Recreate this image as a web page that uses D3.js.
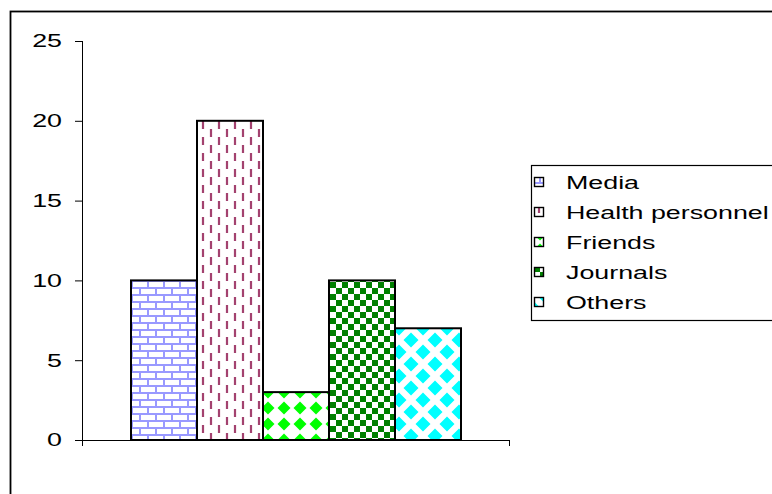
<!DOCTYPE html>
<html>
<head>
<meta charset="utf-8">
<script src="https://cdn.jsdelivr.net/npm/d3@7"></script>
<style>
body { margin: 0; background: #fff; }
svg { display: block; font-family: "Liberation Sans", Arial, sans-serif; }
</style>
</head>
<body>
<script>
var categories = ["Media", "Health personnel", "Friends", "Journals", "Others"];
var values = [10, 20, 3, 10, 7];
var yTicks = [0, 5, 10, 15, 20, 25];

var width = 772, height = 494;
var plot = {left: 82, right: 510, top: 41, bottom: 440};
var stretch = 1.45; // text in the original is drawn wide

var svg = d3.select("body").append("svg")
    .attr("width", width)
    .attr("height", height);

var defs = svg.append("defs");

// brick pattern (Media)
var p = defs.append("pattern").attr("id", "pat0").attr("patternUnits", "userSpaceOnUse")
    .attr("width", 16).attr("height", 14);
p.append("rect").attr("width", 16).attr("height", 14).attr("fill", "#fff");
p.append("path").attr("d", "M0,1H16M0,8H16M4,0V8M12,8V14")
    .attr("stroke", "#9999ff").attr("stroke-width", 2).attr("fill", "none");

// dashed vertical (Health personnel)
p = defs.append("pattern").attr("id", "pat1").attr("patternUnits", "userSpaceOnUse")
    .attr("width", 16).attr("height", 16);
p.append("rect").attr("width", 16).attr("height", 16).attr("fill", "#fff");
p.append("path").attr("d", "M3,1V9M11,9V17M11,-7V1")
    .attr("stroke", "#a3426f").attr("stroke-width", 2.2);

// aligned diamonds (Friends)
p = defs.append("pattern").attr("id", "pat2").attr("patternUnits", "userSpaceOnUse")
    .attr("x", 4).attr("y", 0)
    .attr("width", 16).attr("height", 16);
p.append("rect").attr("width", 16).attr("height", 16).attr("fill", "#fff");
p.append("path").attr("d", "M8,1.5L14.5,8L8,14.5L1.5,8Z").attr("fill", "#00ff00");

// small checker (Journals)
p = defs.append("pattern").attr("id", "pat3").attr("patternUnits", "userSpaceOnUse")
    .attr("width", 12).attr("height", 12);
p.append("rect").attr("width", 12).attr("height", 12).attr("fill", "#fff");
p.append("rect").attr("width", 6).attr("height", 6).attr("fill", "#008000");
p.append("rect").attr("x", 6).attr("y", 6).attr("width", 6).attr("height", 6).attr("fill", "#008000");

// staggered diamonds (Others)
p = defs.append("pattern").attr("id", "pat4").attr("patternUnits", "userSpaceOnUse")
    .attr("x", 3).attr("y", 4)
    .attr("width", 24).attr("height", 24);
p.append("rect").attr("width", 24).attr("height", 24).attr("fill", "#fff");
p.append("path")
    .attr("d", "M12,4.5L19.5,12L12,19.5L4.5,12Z" +
        "M0,-7.5L7.5,0L0,7.5L-7.5,0Z M24,-7.5L31.5,0L24,7.5L16.5,0Z" +
        "M0,16.5L7.5,24L0,31.5L-7.5,24Z M24,16.5L31.5,24L24,31.5L16.5,24Z")
    .attr("fill", "#00ffff");

// outer frame
svg.append("rect")
    .attr("x", 10.5).attr("y", 11.5)
    .attr("width", 900).attr("height", 600)
    .attr("fill", "none").attr("stroke", "#000").attr("stroke-width", 1.8);

var yScale = d3.scaleLinear().domain([0, 25]).range([plot.bottom, plot.top]);
var xGroup = d3.scaleBand().domain(["g"]).range([plot.left, plot.right])
    .paddingInner(0).paddingOuter(0.1485);
var xScale = d3.scaleBand().domain(categories)
    .range([xGroup("g"), xGroup("g") + xGroup.bandwidth()]).padding(0);

svg.selectAll("rect.bar")
    .data(values)
    .enter()
    .append("rect")
    .attr("class", "bar")
    .attr("x", function(d, i) { return xScale(categories[i]); })
    .attr("y", function(d) { return yScale(d); })
    .attr("width", xScale.bandwidth())
    .attr("height", function(d) { return yScale(0) - yScale(d); })
    .attr("fill", function(d, i) { return "url(#pat" + i + ")"; })
    .attr("stroke", "#000")
    .attr("stroke-width", 2);

// y axis
var yAxis = d3.axisLeft(yScale).tickValues(yTicks).tickSize(7).tickPadding(20);
var yAxisG = svg.append("g")
    .attr("transform", "translate(" + plot.left + ",0)")
    .call(yAxis);
yAxisG.select(".domain").attr("d", "M0.5," + plot.top + "V" + (plot.bottom + 6));
yAxisG.selectAll("text")
    .attr("font-size", 18.5)
    .attr("font-family", "Liberation Sans, Arial, sans-serif")
    .attr("fill", "#000")
    .attr("x", -20 / stretch)
    .attr("transform", "scale(" + stretch + ",1)");

// x axis
svg.append("line")
    .attr("x1", plot.left - 7).attr("x2", plot.right)
    .attr("y1", plot.bottom + 0.5).attr("y2", plot.bottom + 0.5)
    .attr("stroke", "#000");
svg.append("line")
    .attr("x1", plot.right - 0.5).attr("x2", plot.right - 0.5)
    .attr("y1", plot.bottom).attr("y2", plot.bottom + 6)
    .attr("stroke", "#000");

// legend
var legend = svg.append("g");
legend.append("rect")
    .attr("x", 531.5).attr("y", 165.5)
    .attr("width", 300).attr("height", 155)
    .attr("fill", "#fff").attr("stroke", "#000").attr("stroke-width", 1.2);

var item = legend.selectAll("g.item")
    .data(categories)
    .enter()
    .append("g")
    .attr("class", "item")
    .attr("transform", function(d, i) { return "translate(0," + (182 + i * 30) + ")"; });
item.append("rect")
    .attr("x", 534.5).attr("y", -4.5)
    .attr("width", 9).attr("height", 9)
    .attr("fill", function(d, i) { return "url(#pat" + i + ")"; })
    .attr("stroke", "#000").attr("stroke-width", 1.4);
item.append("text")
    .attr("transform", "translate(566,6.5) scale(" + stretch + ",1)")
    .attr("font-size", 18.5)
    .text(function(d) { return d; });
</script>
</body>
</html>
